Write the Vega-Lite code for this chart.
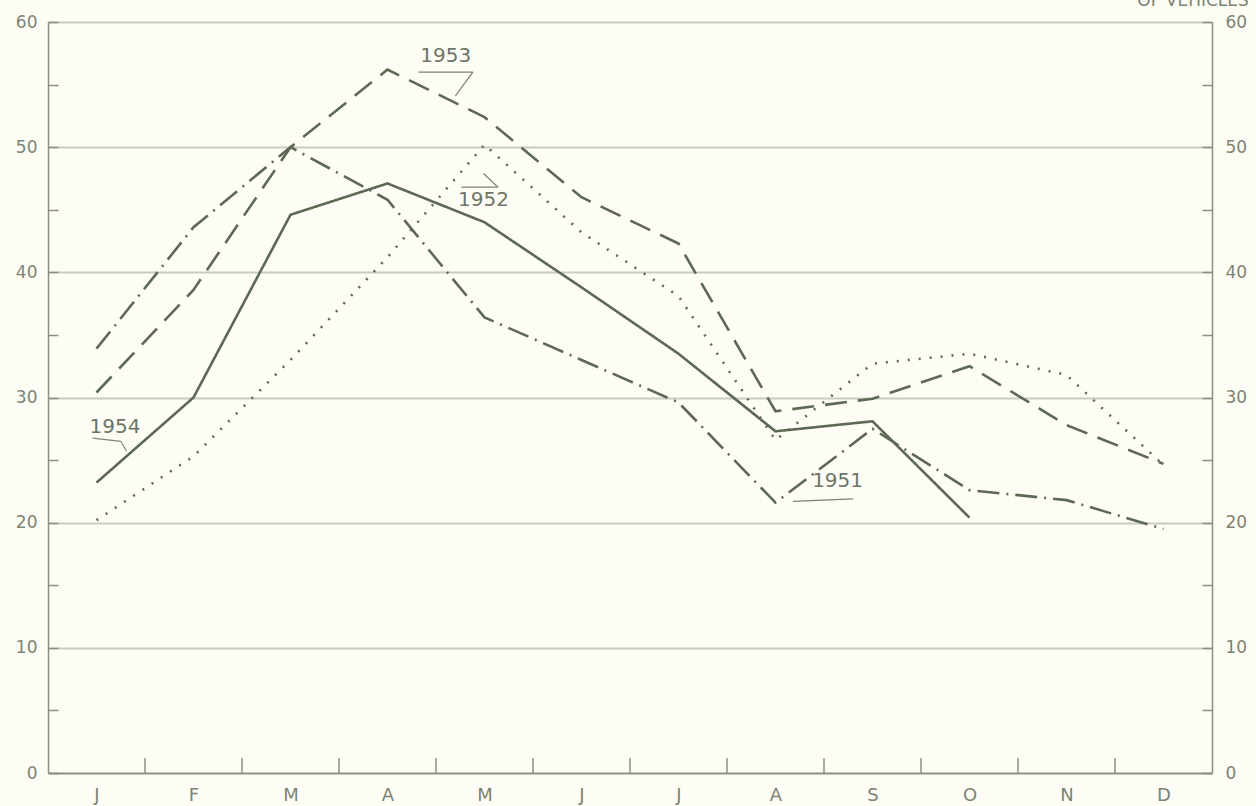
{
  "$schema": "https://vega.github.io/schema/vega-lite/v6.json",
  "width": 1164,
  "height": 751,
  "autosize": {"type": "none"},
  "padding": {"left": 48, "top": 22, "right": 44, "bottom": 33},
  "background": "#fdfdf5",
  "config": {
    "view": {"stroke": null},
    "font": "DejaVu Sans",
    "axis": {"labelFont": "DejaVu Sans", "labelColor": "#7c8373", "domainColor": "#8a8f84", "tickColor": "#8a8f84"}
  },
  "datasets": {
    "series": [
      {"year": "1954", "m": 1, "v": 23.2}, {"year": "1954", "m": 2, "v": 30.0}, {"year": "1954", "m": 3, "v": 44.6},
      {"year": "1954", "m": 4, "v": 47.1}, {"year": "1954", "m": 5, "v": 44.0}, {"year": "1954", "m": 6, "v": 38.8},
      {"year": "1954", "m": 7, "v": 33.5}, {"year": "1954", "m": 8, "v": 27.3}, {"year": "1954", "m": 9, "v": 28.1},
      {"year": "1954", "m": 10, "v": 20.4},
      {"year": "1953", "m": 1, "v": 30.4}, {"year": "1953", "m": 2, "v": 38.6}, {"year": "1953", "m": 3, "v": 50.0},
      {"year": "1953", "m": 4, "v": 56.2}, {"year": "1953", "m": 5, "v": 52.4}, {"year": "1953", "m": 6, "v": 46.0},
      {"year": "1953", "m": 7, "v": 42.3}, {"year": "1953", "m": 8, "v": 28.9}, {"year": "1953", "m": 9, "v": 29.9},
      {"year": "1953", "m": 10, "v": 32.5}, {"year": "1953", "m": 11, "v": 27.8}, {"year": "1953", "m": 12, "v": 24.7},
      {"year": "1951", "m": 1, "v": 33.9}, {"year": "1951", "m": 2, "v": 43.6}, {"year": "1951", "m": 3, "v": 50.0},
      {"year": "1951", "m": 4, "v": 45.8}, {"year": "1951", "m": 5, "v": 36.4}, {"year": "1951", "m": 6, "v": 33.0},
      {"year": "1951", "m": 7, "v": 29.6}, {"year": "1951", "m": 8, "v": 21.6}, {"year": "1951", "m": 9, "v": 27.5},
      {"year": "1951", "m": 10, "v": 22.6}, {"year": "1951", "m": 11, "v": 21.8}, {"year": "1951", "m": 12, "v": 19.5},
      {"year": "1952", "m": 1, "v": 20.2}, {"year": "1952", "m": 2, "v": 25.3}, {"year": "1952", "m": 3, "v": 33.0},
      {"year": "1952", "m": 4, "v": 41.2}, {"year": "1952", "m": 5, "v": 50.2}, {"year": "1952", "m": 6, "v": 43.2},
      {"year": "1952", "m": 7, "v": 38.1}, {"year": "1952", "m": 8, "v": 26.6}, {"year": "1952", "m": 9, "v": 32.7},
      {"year": "1952", "m": 10, "v": 33.5}, {"year": "1952", "m": 11, "v": 31.8}, {"year": "1952", "m": 12, "v": 24.6}
    ],
    "bounds": [
      {"b": 1.5}, {"b": 2.5}, {"b": 3.5}, {"b": 4.5}, {"b": 5.5}, {"b": 6.5},
      {"b": 7.5}, {"b": 8.5}, {"b": 9.5}, {"b": 10.5}, {"b": 11.5}
    ],
    "notes": [
      {"label": "1953", "x": 4.6, "y": 56.8},
      {"label": "1952", "x": 4.99, "y": 45.3},
      {"label": "1954", "x": 1.19, "y": 27.2},
      {"label": "1951", "x": 8.64, "y": 22.85}
    ],
    "leaders": [
      {"x": 4.32, "y": 56.0, "x2": 4.88, "y2": 56.0},
      {"x": 4.88, "y": 56.0, "x2": 4.7, "y2": 54.1},
      {"x": 4.76, "y": 46.8, "x2": 5.14, "y2": 46.8},
      {"x": 5.14, "y": 46.8, "x2": 4.99, "y2": 47.9},
      {"x": 0.96, "y": 26.75, "x2": 1.25, "y2": 26.5},
      {"x": 1.25, "y": 26.5, "x2": 1.31, "y2": 25.7},
      {"x": 8.18, "y": 21.7, "x2": 8.8, "y2": 21.9}
    ],
    "heading": [{"label": "OF VEHICLES", "x": 12.88, "y": 61.25}]
  },
  "layer": [
    {
      "data": {"name": "bounds"},
      "mark": {"type": "rule", "color": "#8a8f84", "strokeWidth": 1.5},
      "encoding": {
        "x": {"field": "b", "type": "quantitative", "scale": {"domain": [0.5, 12.5], "nice": false, "zero": false},
          "axis": {"values": [1,2,3,4,5,6,7,8,9,10,11,12], "labelExpr": "['J','F','M','A','M','J','J','A','S','O','N','D'][datum.value-1]", "ticks": false, "grid": false, "title": null, "labelFontSize": 18, "labelPadding": 13, "domainWidth": 2}},
        "y": {"datum": 0, "type": "quantitative", "axis": null},
        "y2": {"datum": 1.2}
      }
    },
    {
      "data": {"name": "series"},
      "mark": {"type": "line", "strokeWidth": 2.6, "color": "#5c6954"},
      "encoding": {
        "x": {"field": "m", "type": "quantitative"},
        "y": {"field": "v", "type": "quantitative", "scale": {"domain": [0, 60], "nice": false},
          "axis": {"orient": "left", "values": [0,5,10,15,20,25,30,35,40,45,50,55,60], "labelExpr": "datum.value % 10 === 0 ? datum.value : ''", "tickSize": -10, "tickWidth": 1.5, "labelPadding": 21, "labelFontSize": 17, "title": null, "domainWidth": 1.5,
            "grid": true, "gridColor": "#c9cbc2", "gridWidth": 2, "gridOpacity": {"condition": {"test": "datum.value % 10 === 0 && datum.value > 0", "value": 1}, "value": 0}}},
        "detail": {"field": "year"},
        "strokeDash": {"field": "year", "type": "nominal", "legend": null,
          "scale": {"domain": ["1951", "1952", "1953", "1954"], "range": [[22, 7, 2, 7], [2, 9], [22, 11], [1, 0]]}}
      }
    },
    {
      "data": {"name": "series"},
      "mark": {"type": "rule", "opacity": 0},
      "encoding": {
        "y": {"datum": 0, "type": "quantitative",
          "axis": {"orient": "right", "values": [0,5,10,15,20,25,30,35,40,45,50,55,60], "labelExpr": "datum.value % 10 === 0 ? datum.value : ''", "tickSize": -10, "tickWidth": 1.5, "labelPadding": 23, "labelFontSize": 17, "title": null, "domainWidth": 1.5, "grid": false}}
      }
    },
    {
      "data": {"name": "leaders"},
      "mark": {"type": "rule", "color": "#7c8373", "strokeWidth": 1.2},
      "encoding": {
        "x": {"field": "x", "type": "quantitative"},
        "y": {"field": "y", "type": "quantitative", "axis": null},
        "x2": {"field": "x2"},
        "y2": {"field": "y2"}
      }
    },
    {
      "data": {"name": "notes"},
      "mark": {"type": "text", "fontSize": 20, "color": "#6d7566", "align": "center", "baseline": "alphabetic"},
      "encoding": {
        "x": {"field": "x", "type": "quantitative"},
        "y": {"field": "y", "type": "quantitative", "axis": null},
        "text": {"field": "label"}
      }
    },
    {
      "data": {"name": "heading"},
      "mark": {"type": "text", "fontSize": 17, "color": "#7c8373", "align": "right", "baseline": "alphabetic"},
      "encoding": {
        "x": {"field": "x", "type": "quantitative"},
        "y": {"field": "y", "type": "quantitative", "axis": null},
        "text": {"field": "label"}
      }
    }
  ],
  "resolve": {"axis": {"y": "independent"}}
}
